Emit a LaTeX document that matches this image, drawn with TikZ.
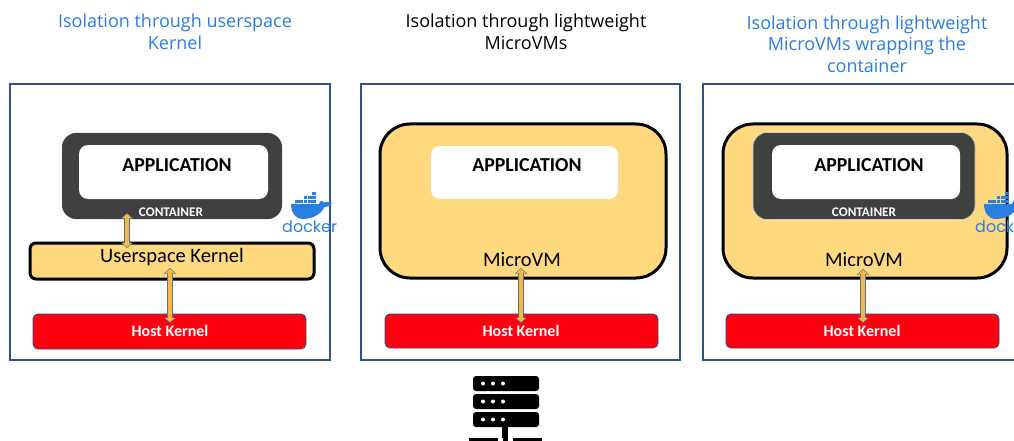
\documentclass[tikz,border=0pt]{standalone}
\usepackage{fontspec}
\setmainfont{Carlito}
\newfontfamily\titlefont{Open Sans}
\newfontfamily\dockerfont{Poppins}
\usetikzlibrary{arrows.meta}
\definecolor{frameblue}{HTML}{2F5288}
\definecolor{titleblue}{HTML}{2A7DE1}
\definecolor{vmyellow}{HTML}{FFD980}
\definecolor{darkbox}{HTML}{404040}
\definecolor{hostred}{HTML}{FF0010}
\definecolor{hostedge}{HTML}{2F4A7A}
\definecolor{arroworange}{HTML}{F4B942}
\definecolor{arrowedge}{HTML}{5F6F8F}
\definecolor{dockerblue}{HTML}{2A80E0}
\tikzset{
  frame/.style={draw=frameblue,line width=1.2pt,fill=white},
  boxat/.style={inner sep=0pt,outer sep=0pt,anchor=north west},
  darkcontainer/.style={boxat,fill=darkbox,rounded corners=14pt},
  whitebox/.style={boxat,fill=white,rounded corners=9pt},
  kernelbox/.style={boxat,draw=black,line width=3pt,fill=vmyellow,rounded corners=6pt},
  vmbox/.style={boxat,draw=black,line width=3pt,fill=vmyellow,rounded corners=30pt},
  hostbox/.style={boxat,draw=hostedge,line width=.8pt,fill=hostred,rounded corners=5pt},
  titletext/.style={font=\titlefont\fontsize{18}{21.5}\selectfont,align=center,text=titleblue},
  apptext/.style={font=\fontsize{19.8}{22}\selectfont\bfseries,text=black},
  conttext/.style={font=\fontsize{13.2}{14}\selectfont\bfseries,text=white},
  vmtext/.style={font=\fontsize{20.5}{22}\selectfont,text=black},
  hosttext/.style={font=\fontsize{16}{18}\selectfont\bfseries,text=white},
  dockertext/.style={font=\dockerfont\fontsize{16}{18}\selectfont,text=dockerblue,inner sep=0pt,anchor=west},
  blockarrow/.style={draw=arrowedge,line width=6.4pt,{Triangle[width=12pt,length=5.5pt]}-{Triangle[width=12pt,length=5.5pt]},
    postaction={draw=arroworange,line width=4.4pt,shorten >=1pt,shorten <=1pt,{Triangle[width=9.5pt,length=4pt]}-{Triangle[width=9.5pt,length=4pt]}}},
  pics/whale/.style={code={
    \fill[dockerblue] (0,12) -- (28,12) .. controls (28.5,8.5) and (31,8) .. (33,10.5)
      .. controls (35,9.5) and (39,9.5) .. (41,11) .. controls (38.5,14.5) and (36,15) .. (33.5,15)
      .. controls (29,24) and (19,27) .. (12,27) .. controls (4,27) and (0,20) .. (0,12) -- cycle;
    \foreach \bx in {4,8.3,12.6,16.9,21.2}{\fill[dockerblue] (\bx,8) rectangle +(3.6,3.4);}
    \foreach \bx in {12.6,16.9,21.2}{\fill[dockerblue] (\bx,4) rectangle +(3.6,3.4);}
    \fill[dockerblue] (21.2,0) rectangle +(3.6,3.4);
  }}
}
\begin{document}
\begin{tikzpicture}[x=1pt,y=-1pt]
\useasboundingbox (0,0) rectangle (1014,441);
\clip (0,0) rectangle (1014,441);
\fill[white] (0,0) rectangle (1014,441);
% titles
\node[titletext] (t1) at (175,32) {Isolation through userspace\\Kernel};
\node[titletext,text=black] (t2) at (526,32) {Isolation through lightweight\\MicroVMs};
\node[titletext] (t3) at (867,44) {Isolation through lightweight\\MicroVMs wrapping the\\container};
% frames
\draw[frame] (10,84) rectangle (330,360);
\draw[frame] (361,84) rectangle (680,360);
\draw[frame] (703,84) rectangle (1030,360);
% panel 1
\node[darkcontainer,minimum width=220pt,minimum height=86pt] (c1) at (62,133) {};
\node[whitebox,minimum width=189pt,minimum height=54pt] (w1) at (79,145) {};
\node[apptext] (a1) at (177,165) {APPLICATION};
\node[conttext] (l1) at (171,212.5) {CONTAINER};
\node[kernelbox,minimum width=284pt,minimum height=36pt] (u1) at (30,243) {};
\coordinate (p1a) at (127,213);
\coordinate (p1b) at (127,248);
\coordinate (p1c) at (170,268);
\coordinate (p1d) at (170,323);
\draw[blockarrow] (p1a) -- (p1b);
\node[vmtext] (ut) at (172,257) {Userspace Kernel};
\node[hostbox,minimum width=273pt,minimum height=35pt] (h1) at (33,314) {};
\draw[blockarrow] (p1c) -- (p1d);
\node[hosttext] (ht1) at (170,331) {Host Kernel};
\pic at (291,192) {whale};
\node[dockertext] (d1) at (282,227) {docker};
% panel 2
\node[vmbox,minimum width=286pt,minimum height=154pt] (v2) at (380,124) {};
\node[whitebox,minimum width=187pt,minimum height=53pt] (w2) at (431,146) {};
\node[apptext] (a2) at (527,165) {APPLICATION};
\node[vmtext] (m2) at (522,260) {MicroVM};
\node[hostbox,minimum width=273pt,minimum height=34pt] (h2) at (385,314) {};
\node[hosttext] (ht2) at (521,331) {Host Kernel};
\coordinate (p2a) at (521,268);
\coordinate (p2b) at (521,323);
\draw[blockarrow] (p2a) -- (p2b);
% panel 3
\node[vmbox,minimum width=284pt,minimum height=154pt] (v3) at (723,124) {};
\node[darkcontainer,draw=white!75!darkbox,line width=.6pt,minimum width=222pt,minimum height=87pt] (c3) at (753,132.5) {};
\node[whitebox,minimum width=188pt,minimum height=54pt] (w3) at (772,145) {};
\node[apptext] (a3) at (869,165) {APPLICATION};
\node[conttext] (l3) at (864,212.5) {CONTAINER};
\node[vmtext] (m3) at (864,260) {MicroVM};
\node[hostbox,minimum width=273pt,minimum height=34pt] (h3) at (726,314) {};
\node[hosttext] (ht3) at (862,331) {Host Kernel};
\coordinate (p3a) at (863,269);
\coordinate (p3b) at (863,323);
\draw[blockarrow] (p3a) -- (p3b);
\pic at (984,192) {whale};
\node[dockertext] (d3) at (975,227) {docker};
% server icon
\foreach \sy in {376,394,412}{
  \fill[black,rounded corners=3pt] (473,\sy) rectangle (539,\sy+15);
  \foreach \sx in {483,493,503}{\fill[white] (\sx,\sy+7.5) circle (2);}
}
\fill[black] (502,427) rectangle (508,438);
\fill[black] (469,438) rectangle (498,445);
\fill[black] (503,438) rectangle (508,445);
\fill[black] (513,438) rectangle (542,445);
\end{tikzpicture}
\end{document}
